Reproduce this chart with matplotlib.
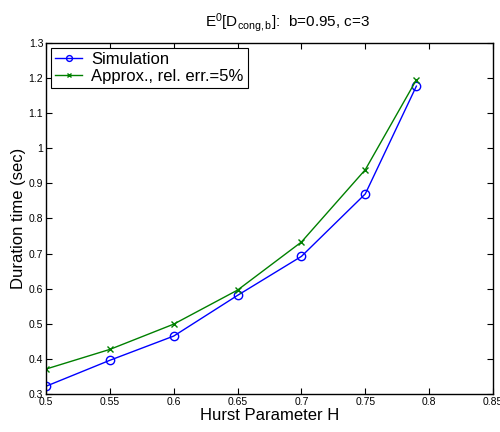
import matplotlib
matplotlib.use("Agg")
import matplotlib.pyplot as plt

# Hurst parameter values and durations
hurst = [0.5, 0.55, 0.6, 0.65, 0.7, 0.75, 0.79]
sim = [0.322, 0.396, 0.465, 0.581, 0.692, 0.870, 1.177]
approx = [0.371, 0.427, 0.499, 0.596, 0.733, 0.939, 1.195]

xticks = [0.5, 0.55, 0.6, 0.65, 0.7, 0.75, 0.8, 0.85]
yticks = [0.3, 0.4, 0.5, 0.6, 0.7, 0.8, 0.9, 1, 1.1, 1.2, 1.3]

plt.rcParams['font.family'] = ['Liberation Sans', 'DejaVu Sans']
plt.rcParams['mathtext.fontset'] = 'custom'
plt.rcParams['mathtext.rm'] = 'Liberation Sans'
plt.rcParams['mathtext.it'] = 'Liberation Sans'

fig = plt.figure(figsize=(5, 4.32), dpi=100)
ax = fig.add_axes([0.092, 0.088, 0.894, 0.8125])

ax.plot(hurst, sim, 'b-', marker='o', markersize=6, markerfacecolor='none',
        markeredgewidth=1, lw=1, label='Simulation')
ax.plot(hurst, approx, color='green', marker='x', markersize=4,
        markeredgewidth=1, lw=1, label='Approx., rel. err.=5%')

ax.set_xlim(0.5, 0.85)
ax.set_ylim(0.3, 1.3)
ax.set_xticks(xticks)
ax.set_xticklabels([f'{t:g}' for t in xticks])
ax.set_yticks(yticks)
ax.set_yticklabels([f'{t:g}' for t in yticks])
ax.tick_params(direction='in', top=True, right=True, labelsize=7.5,
               length=4, width=0.8, pad=2, colors='black')
for s in ax.spines.values():
    s.set_linewidth(1)

ax.set_xlabel('Hurst Parameter H', fontsize=12, labelpad=1)
ax.set_ylabel('Duration time (sec)', fontsize=12, labelpad=2)
ax.text(0.541, 1.025, r'$\mathrm{E}^0[\mathrm{D}_{\mathrm{cong,b}}]$:  b=0.95, c=3',
        transform=ax.transAxes, ha='center', va='bottom', fontsize=11)

leg = ax.legend(loc='upper left', fontsize=12, fancybox=False, framealpha=1,
                edgecolor='black', borderaxespad=0.3, handlelength=1.6,
                handletextpad=0.55, borderpad=0.25, labelspacing=0.1,
                markerscale=0.7)
leg.get_frame().set_linewidth(0.8)

fig.savefig('out.png', dpi=100)
